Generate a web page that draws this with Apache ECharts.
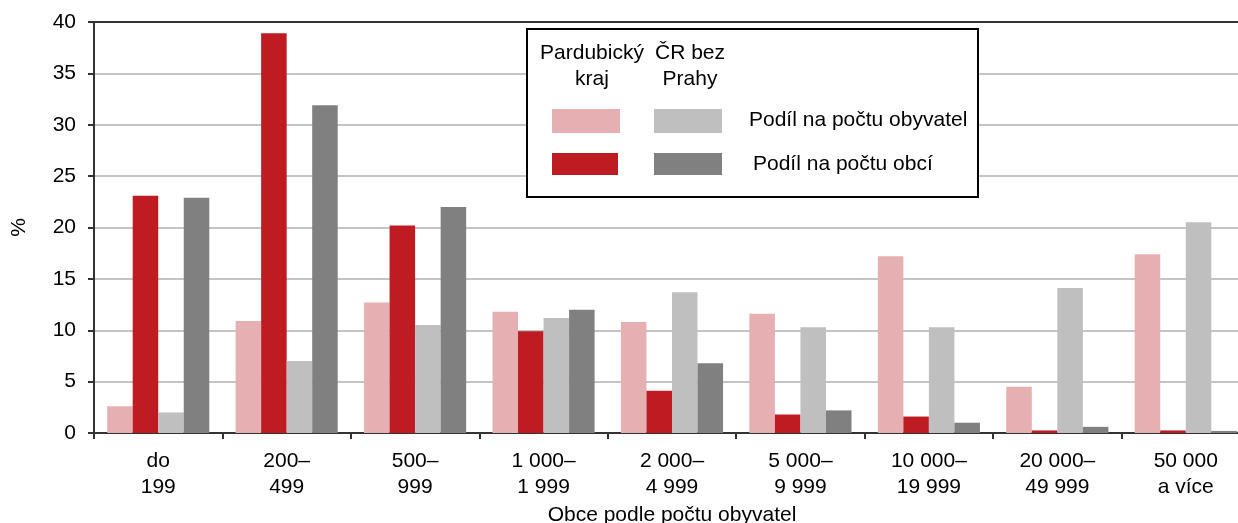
<!DOCTYPE html>
<html>
<head>
<meta charset="utf-8">
<script src="https://cdn.jsdelivr.net/npm/echarts@6/dist/echarts.min.js"></script>
<style>html,body{margin:0;padding:0;background:#fff;}#c{width:1238px;height:523px;}</style>
</head>
<body>
<div id="c"></div>
<script>
const categories = ['do\n199','200–\n499','500–\n999','1 000–\n1 999','2 000–\n4 999','5 000–\n9 999','10 000–\n19 999','20 000–\n49 999','50 000\na více'];
const pardObyvatel = [2.6, 10.9, 12.7, 11.8, 10.8, 11.6, 17.2, 4.5, 17.4];
const pardObce     = [23.1, 38.9, 20.2, 9.9, 4.1, 1.8, 1.6, 0.25, 0.25];
const crObyvatel   = [2.0, 7.0, 10.5, 11.2, 13.7, 10.3, 10.3, 14.1, 20.5];
const crObce       = [22.9, 31.9, 22.0, 12.0, 6.8, 2.2, 1.0, 0.6, 0.2];
const yTicks = { min: 0, max: 40, interval: 5 };
const colors = { pardObyv: '#e6afb2', pardObce: '#be1b23', crObyv: '#bfbfbf', crObce: '#808080' };
const legendHeaders = ['Pardubický\nkraj', 'ČR bez\nPrahy'];
const legendTexts = ['Podíl na počtu obyvatel', 'Podíl na počtu obcí'];

const FONT = 'Liberation Sans, Arial, sans-serif';
const FS = 21;
const chart = echarts.init(document.getElementById('c'), null, { renderer: 'canvas' });

function bar(name, data, color) {
  return { name, type: 'bar', data, barGap: '0%', barCategoryGap: '20.5%',
    itemStyle: { color }, emphasis: { disabled: true } };
}

chart.setOption({
  animation: false,
  backgroundColor: '#ffffff',
  textStyle: { fontFamily: FONT },
  grid: { left: 94, top: 22, width: 1156, height: 411, containLabel: false, outerBoundsMode: 'none' },
  xAxis: [{
    type: 'category', data: categories,
    name: 'Obce podle počtu obyvatel', nameLocation: 'middle', nameGap: 70,
    nameTextStyle: { fontSize: FS, color: '#000', fontFamily: FONT },
    axisLine: { lineStyle: { color: '#333', width: 2 } },
    axisTick: { show: true, length: 6, lineStyle: { color: '#333', width: 2 } },
    axisLabel: { fontSize: FS, color: '#000', lineHeight: 26, margin: 15, interval: 0, fontFamily: FONT }
  }, {
    type: 'category', data: categories, position: 'top',
    axisLine: { show: true, lineStyle: { color: '#333', width: 2 } },
    axisTick: { show: false }, axisLabel: { show: false }, splitLine: { show: false }
  }],
  yAxis: {
    type: 'value', min: yTicks.min, max: yTicks.max, interval: yTicks.interval,
    name: '%', nameLocation: 'middle', nameGap: 64, nameRotate: 90,
    nameTextStyle: { fontSize: FS, color: '#000', fontFamily: FONT },
    axisLine: { show: true, lineStyle: { color: '#333', width: 2 } },
    axisTick: { show: true, length: 6, lineStyle: { color: '#333', width: 2 } },
    axisLabel: { fontSize: FS, color: '#000', margin: 18, fontFamily: FONT },
    splitLine: { lineStyle: { color: '#c4c4c4', width: 2 } }
  },
  series: [
    bar('Pardubický kraj – podíl na počtu obyvatel', pardObyvatel, colors.pardObyv),
    bar('Pardubický kraj – podíl na počtu obcí', pardObce, colors.pardObce),
    bar('ČR bez Prahy – podíl na počtu obyvatel', crObyvatel, colors.crObyv),
    bar('ČR bez Prahy – podíl na počtu obcí', crObce, colors.crObce)
  ],
  graphic: [
    { type: 'rect', z: 100, shape: { x: 527, y: 29, width: 451, height: 168 }, style: { fill: '#fff', stroke: '#000', lineWidth: 2 } },
    { type: 'text', z: 101, x: 592, y: 40, style: { text: legendHeaders[0], fill: '#000', font: FS + 'px ' + FONT, textAlign: 'center', lineHeight: 26 } },
    { type: 'text', z: 101, x: 690, y: 40, style: { text: legendHeaders[1], fill: '#000', font: FS + 'px ' + FONT, textAlign: 'center', lineHeight: 26 } },
    { type: 'rect', z: 101, shape: { x: 552, y: 109, width: 68, height: 24 }, style: { fill: colors.pardObyv } },
    { type: 'rect', z: 101, shape: { x: 654, y: 109, width: 68, height: 24 }, style: { fill: colors.crObyv } },
    { type: 'rect', z: 101, shape: { x: 552, y: 153, width: 66, height: 22 }, style: { fill: colors.pardObce } },
    { type: 'rect', z: 101, shape: { x: 654, y: 153, width: 68, height: 22 }, style: { fill: colors.crObce } },
    { type: 'text', z: 101, x: 749, y: 120, style: { text: legendTexts[0], fill: '#000', font: FS + 'px ' + FONT, textVerticalAlign: 'middle' } },
    { type: 'text', z: 101, x: 753, y: 164, style: { text: legendTexts[1], fill: '#000', font: FS + 'px ' + FONT, textVerticalAlign: 'middle' } }
  ]
});
</script>
</body>
</html>
